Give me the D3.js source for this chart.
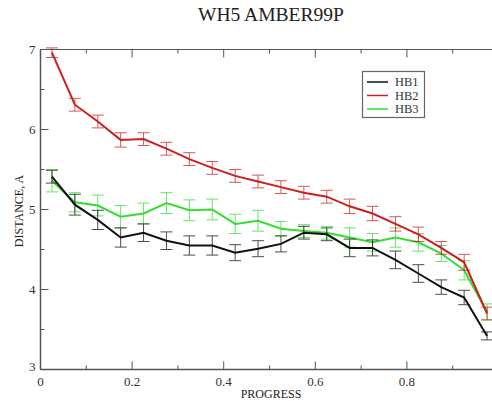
<!DOCTYPE html>
<html><head><meta charset="utf-8">
<script src="https://cdn.jsdelivr.net/npm/d3@7"></script>
<style>body{margin:0;background:#fff}svg{display:block}</style>
</head><body><svg id="c" width="492" height="401" font-family="'Liberation Serif', 'DejaVu Serif', serif"></svg>
<script>
const progress = [0.025,0.075,0.125,0.175,0.225,0.275,0.325,0.375,0.425,0.475,0.525,0.575,0.625,0.675,0.725,0.775,0.825,0.875,0.925,0.975];
const hb1 = [5.41,5.06,4.87,4.65,4.71,4.61,4.55,4.55,4.46,4.51,4.57,4.71,4.69,4.52,4.52,4.37,4.20,4.03,3.90,3.42];
const hb2 = [6.96,6.31,6.10,5.87,5.88,5.76,5.63,5.52,5.42,5.35,5.28,5.21,5.16,5.04,4.95,4.82,4.69,4.52,4.34,3.70];
const hb3 = [5.36,5.09,5.05,4.91,4.95,5.08,4.99,5.00,4.82,4.86,4.76,4.73,4.71,4.65,4.59,4.65,4.59,4.45,4.24,3.72];
const err1 = [0.08,0.13,0.12,0.12,0.11,0.11,0.12,0.12,0.10,0.10,0.10,0.08,0.08,0.11,0.10,0.11,0.11,0.09,0.09,0.05];
const err2 = [0.06,0.08,0.08,0.09,0.08,0.08,0.08,0.08,0.08,0.08,0.08,0.08,0.08,0.09,0.09,0.09,0.09,0.08,0.10,0.08];
const err3 = [0.14,0.12,0.13,0.14,0.13,0.13,0.13,0.13,0.12,0.13,0.09,0.08,0.08,0.12,0.11,0.12,0.11,0.10,0.12,0.10];
const seriesNames = ["HB1","HB2","HB3"];
const seriesColors = ["#111111","#cc2020","#33dd33"];
const xTicks = [0,0.2,0.4,0.6,0.8,1.0];
const xTickLabels = ["0","0.2","0.4","0.6","0.8"];
const yTicks = [3,4,5,6,7];
const title = "WH5 AMBER99P";
const xLabel = "PROGRESS";
const yLabel = "DISTANCE, A";

const FONT = "'Liberation Serif', 'DejaVu Serif', serif";
const svg = d3.select("#c");
const x = d3.scaleLinear().domain([0,1]).range([40.5,498.5]);
const y = d3.scaleLinear().domain([3,7]).range([369.5,49.5]);
const axisCol = "#555";

// title
svg.append("text").attr("x",271).attr("y",21).attr("text-anchor","middle").attr("font-family",FONT)
  .attr("font-size",18).attr("fill","#222").attr("textLength",146).attr("lengthAdjust","spacingAndGlyphs").text(title);

// frame
const g = svg.append("g");
g.append("line").attr("x1",x(0)).attr("x2",x(1)).attr("y1",y(3)).attr("y2",y(3)).attr("stroke",axisCol).attr("stroke-width",1.5);
g.append("line").attr("x1",x(0)).attr("x2",x(1)).attr("y1",y(7)).attr("y2",y(7)).attr("stroke",axisCol).attr("stroke-width",1.2);
g.append("line").attr("x1",x(0)).attr("x2",x(0)).attr("y1",y(3)).attr("y2",y(7)).attr("stroke",axisCol).attr("stroke-width",1.5);

// ticks (inward)
const xMinor = d3.range(0.1,1,0.2);
const yMinor = [3.5,4.5,5.5,6.5];
xTicks.forEach(t=>{
  g.append("line").attr("x1",x(t)).attr("x2",x(t)).attr("y1",y(3)).attr("y2",y(3)-8).attr("stroke",axisCol);
  g.append("line").attr("x1",x(t)).attr("x2",x(t)).attr("y1",y(7)).attr("y2",y(7)+8).attr("stroke",axisCol);
});
xTickLabels.forEach((lab,i)=>{
  svg.append("text").attr("x",x(xTicks[i])).attr("y",386).attr("text-anchor","middle").attr("font-family",FONT).attr("font-size",13).attr("fill","#333").text(lab);
});
xMinor.forEach(t=>{
  g.append("line").attr("x1",x(t)).attr("x2",x(t)).attr("y1",y(3)).attr("y2",y(3)-4).attr("stroke",axisCol);
  g.append("line").attr("x1",x(t)).attr("x2",x(t)).attr("y1",y(7)).attr("y2",y(7)+4).attr("stroke",axisCol);
});
yTicks.forEach(t=>{
  g.append("line").attr("x1",x(0)).attr("x2",x(0)+8).attr("y1",y(t)).attr("y2",y(t)).attr("stroke",axisCol);
  svg.append("text").attr("x",x(0)-5).attr("y",y(t)+(t===3?1:4)).attr("text-anchor","end").attr("font-family",FONT).attr("font-size",13).attr("fill","#333").text(t);
});
yMinor.forEach(t=>{
  g.append("line").attr("x1",x(0)).attr("x2",x(0)+4).attr("y1",y(t)).attr("y2",y(t)).attr("stroke",axisCol);
});

// labels
svg.append("text").attr("x",271).attr("y",398).attr("text-anchor","middle").attr("font-family",FONT).attr("font-size",12).attr("fill","#222").text(xLabel);
svg.append("text").attr("transform","translate(23,211) rotate(-90)").attr("text-anchor","middle").attr("font-family",FONT).attr("font-size",12).attr("fill","#222").text(yLabel);

// series
const all = [[hb1,err1],[hb2,err2],[hb3,err3]];
const line = d3.line().x(d=>x(d[0])).y(d=>y(d[1]));
const order = [2,0,1];
order.forEach(si=>{
  const [vals,errs] = all[si];
  const col = seriesColors[si];
  const pts = progress.map((p,i)=>[p,vals[i],errs[i]]);
  const eg = svg.append("g").attr("stroke",col).attr("stroke-width",1).attr("opacity",0.75);
  pts.forEach(d=>{
    const cx = x(d[0]);
    eg.append("line").attr("x1",cx).attr("x2",cx).attr("y1",y(d[1]-d[2])).attr("y2",y(d[1]+d[2]));
    eg.append("line").attr("x1",cx-6).attr("x2",cx+6).attr("y1",y(d[1]-d[2])).attr("y2",y(d[1]-d[2]));
    eg.append("line").attr("x1",cx-6).attr("x2",cx+6).attr("y1",y(d[1]+d[2])).attr("y2",y(d[1]+d[2]));
  });
  svg.append("path").datum(pts).attr("d",line).attr("fill","none").attr("stroke",col).attr("stroke-width",2);
});

// legend
const lg = svg.append("g");
lg.append("rect").attr("x",362.5).attr("y",71.5).attr("width",62).attr("height",46).attr("fill","#fff").attr("stroke","#666").attr("stroke-width",1.2);
seriesNames.forEach((n,i)=>{
  const yy = 82 + i*13.5;
  lg.append("line").attr("x1",367).attr("x2",388).attr("y1",yy).attr("y2",yy).attr("stroke",seriesColors[i]).attr("stroke-width",1.5);
  lg.append("text").attr("x",395).attr("y",yy+4).attr("font-family",FONT).attr("font-size",12.5).attr("fill","#333").text(n);
});
</script></body></html>
